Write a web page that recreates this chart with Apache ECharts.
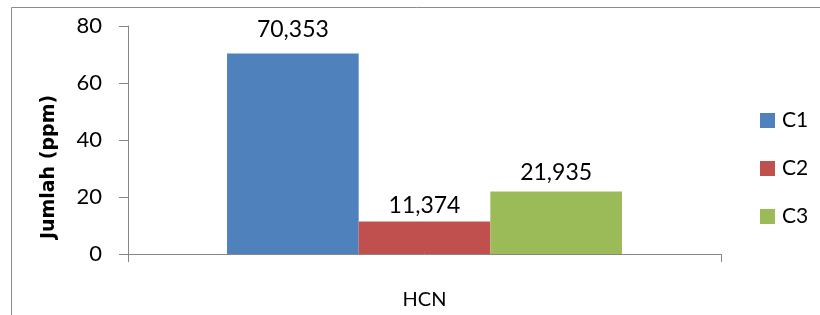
<!DOCTYPE html>
<html lang="id">
<head>
    <meta charset="UTF-8">
    <title>Jumlah HCN</title>
    <style>
        body,html{
            margin: 0;
            background: #fff;
        }
        #chart{
            width: 820px;
            height: 315px;
        }
    </style>
</head>
<body>
<div id="chart"></div>
<script src="https://cdn.jsdelivr.net/npm/echarts@6/dist/echarts.min.js"></script>
<script type="text/javascript">
    // data
    let categories = ['HCN'];
    let seriesNames = ['C1', 'C2', 'C3'];
    let c1 = [70.353];
    let c2 = [11.374];
    let c3 = [21.935];
    let yTicks = [0, 20, 40, 60, 80];

    let colors = ['#4F81BD', '#C0504D', '#9BBB59'];
    let font = 'Lato, "Open Sans", sans-serif';

    //label angka pakai koma desimal
    function fmt(p) {
        return p.value.toFixed(3).replace('.', ',');
    }

    function makeSeries(name, data, color, dist) {
        return {
            name: name,
            type: 'bar',
            data: data,
            barGap: '0%',
            barCategoryGap: '33.4%',
            itemStyle: {color: color},
            label: {
                show: true,
                position: 'top',
                distance: dist,
                formatter: fmt,
                color: '#000',
                fontFamily: font,
                fontSize: 23
            }
        };
    }

    let myChart = echarts.init(document.getElementById('chart'));
    let option = {
        animation: false,
        graphic: [
            {
                type: 'rect',
                shape: {x: 11.5, y: 7.5, width: 830, height: 330},
                style: {fill: 'none', stroke: '#8c8c8c', lineWidth: 1}
            },
            {   //judul sumbu y
                type: 'text',
                x: 49,
                y: 167,
                rotation: Math.PI / 2,
                style: {
                    text: 'Jumlah (ppm)',
                    fontFamily: '"DejaVu Sans", sans-serif',
                    fontWeight: 'bold',
                    fontSize: 19,
                    fill: '#000',
                    textAlign: 'center',
                    textVerticalAlign: 'middle'
                }
            }
        ],
        grid: {left: 128, right: 99, top: 26, bottom: 61},
        legend: {
            data: seriesNames,
            orient: 'vertical',
            left: 755,
            top: 105,
            itemWidth: 15,
            itemHeight: 15,
            itemGap: 27,
            icon: 'rect',
            textStyle: {fontFamily: font, fontSize: 21, color: '#000', padding: [0, 0, 0, 2]}
        },
        xAxis: {
            type: 'category',
            data: categories,
            axisLine: {lineStyle: {color: '#868686'}},
            axisTick: {show: true, length: 8, lineStyle: {color: '#868686'}},
            axisLabel: {color: '#000', fontFamily: font, fontSize: 20, margin: 36}
        },
        yAxis: {
            type: 'value',
            min: yTicks[0],
            max: yTicks[yTicks.length - 1],
            interval: 20,
            axisLine: {show: true, lineStyle: {color: '#868686'}},
            axisTick: {show: true, length: 9, lineStyle: {color: '#868686'}},
            splitLine: {show: false},
            axisLabel: {color: '#000', fontFamily: font, fontSize: 22, margin: 26}
        },
        series: [
            makeSeries(seriesNames[0], c1, colors[0], 12),
            makeSeries(seriesNames[1], c2, colors[1], 5),
            makeSeries(seriesNames[2], c3, colors[2], 7)
        ]
    };
    myChart.setOption(option);
</script>
</body>
</html>
